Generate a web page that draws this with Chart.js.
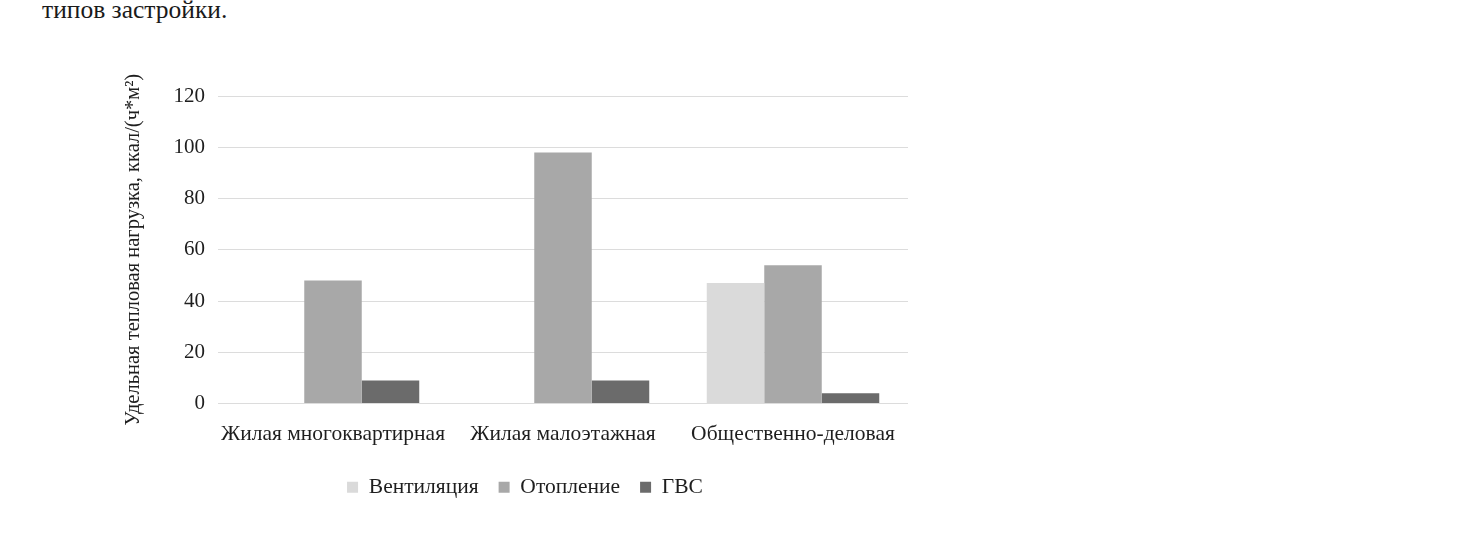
<!DOCTYPE html>
<html lang="ru">
<head>
<meta charset="utf-8">
<title>Удельная тепловая нагрузка</title>
<script src="https://cdn.jsdelivr.net/npm/chart.js@4.4.1/dist/chart.umd.min.js"></script>
<style>
  html, body { margin: 0; padding: 0; background: #fff; }
  body { width: 1462px; height: 540px; position: relative; overflow: hidden; }
  .caption {
    position: absolute; left: 42px; top: -5px;
    font-family: "Liberation Serif", "DejaVu Serif", serif;
    font-size: 25.5px; color: #1a1a1a; white-space: nowrap;
  }
  #wrap { position: absolute; left: 0; top: 0; width: 1462px; height: 540px; }
</style>
</head>
<body>
<div class="caption">типов застройки.</div>
<div id="wrap"><canvas id="chart"></canvas></div>
<script>
// Building types along the x axis
const categories = ['Жилая многоквартирная', 'Жилая малоэтажная', 'Общественно-деловая'];
// Specific heat load per series, kcal/(h*m2)
const ventilation = [0, 0, 47];
const heating = [48, 98, 54];
const hotWater = [9, 9, 4];
const seriesNames = ['Вентиляция', 'Отопление', 'ГВС'];
const yTicks = [0, 20, 40, 60, 80, 100, 120];
const yTitle = 'Удельная тепловая нагрузка, ккал/(ч*м²)';

const serif = '"Liberation Serif", "DejaVu Serif", serif';
const textColor = '#1e1e1e';

// Rotated axis title, drawn beside the value ticks
const yTitlePlugin = {
  id: 'yTitle',
  afterDraw(chart) {
    const { ctx, chartArea } = chart;
    ctx.save();
    ctx.translate(chartArea.left - 84, (chartArea.top + chartArea.bottom) / 2);
    ctx.rotate(-Math.PI / 2);
    ctx.font = '20.5px ' + serif;
    ctx.fillStyle = textColor;
    ctx.textAlign = 'center';
    ctx.textBaseline = 'middle';
    ctx.fillText(yTitle, 0, 0);
    ctx.restore();
  }
};

new Chart(document.getElementById('chart'), {
  type: 'bar',
  data: {
    labels: categories,
    datasets: [
      { label: seriesNames[0], data: ventilation, backgroundColor: '#dadada' },
      { label: seriesNames[1], data: heating, backgroundColor: '#a8a8a8' },
      { label: seriesNames[2], data: hotWater, backgroundColor: '#6b6b6b' }
    ]
  },
  options: {
    responsive: true,
    maintainAspectRatio: false,
    animation: false,
    datasets: { bar: { categoryPercentage: 0.75, barPercentage: 1.0 } },
    layout: { padding: { left: 142, right: 554, top: 96, bottom: 32 } },
    plugins: {
      tooltip: { enabled: false },
      legend: {
        position: 'bottom',
        labels: {
          boxWidth: 11, boxHeight: 11,
          color: textColor,
          font: { family: serif, size: 21.5 },
          padding: 20
        }
      }
    },
    scales: {
      x: {
        afterFit(scale) { scale.height = 53; },
        grid: { display: false },
        border: { display: false },
        ticks: { color: textColor, font: { family: serif, size: 21.5 }, padding: 10, maxRotation: 0, autoSkip: false }
      },
      y: {
        min: 0, max: 120,
        afterFit(scale) { scale.width = 76; },
        afterBuildTicks(scale) { scale.ticks = yTicks.map(v => ({ value: v })); },
        grid: { color: '#dcdcdc', lineWidth: 1, drawTicks: false },
        border: { display: false },
        ticks: { color: textColor, font: { family: serif, size: 21 }, padding: 13 }
      }
    }
  },
  plugins: [yTitlePlugin]
});
</script>
</body>
</html>
